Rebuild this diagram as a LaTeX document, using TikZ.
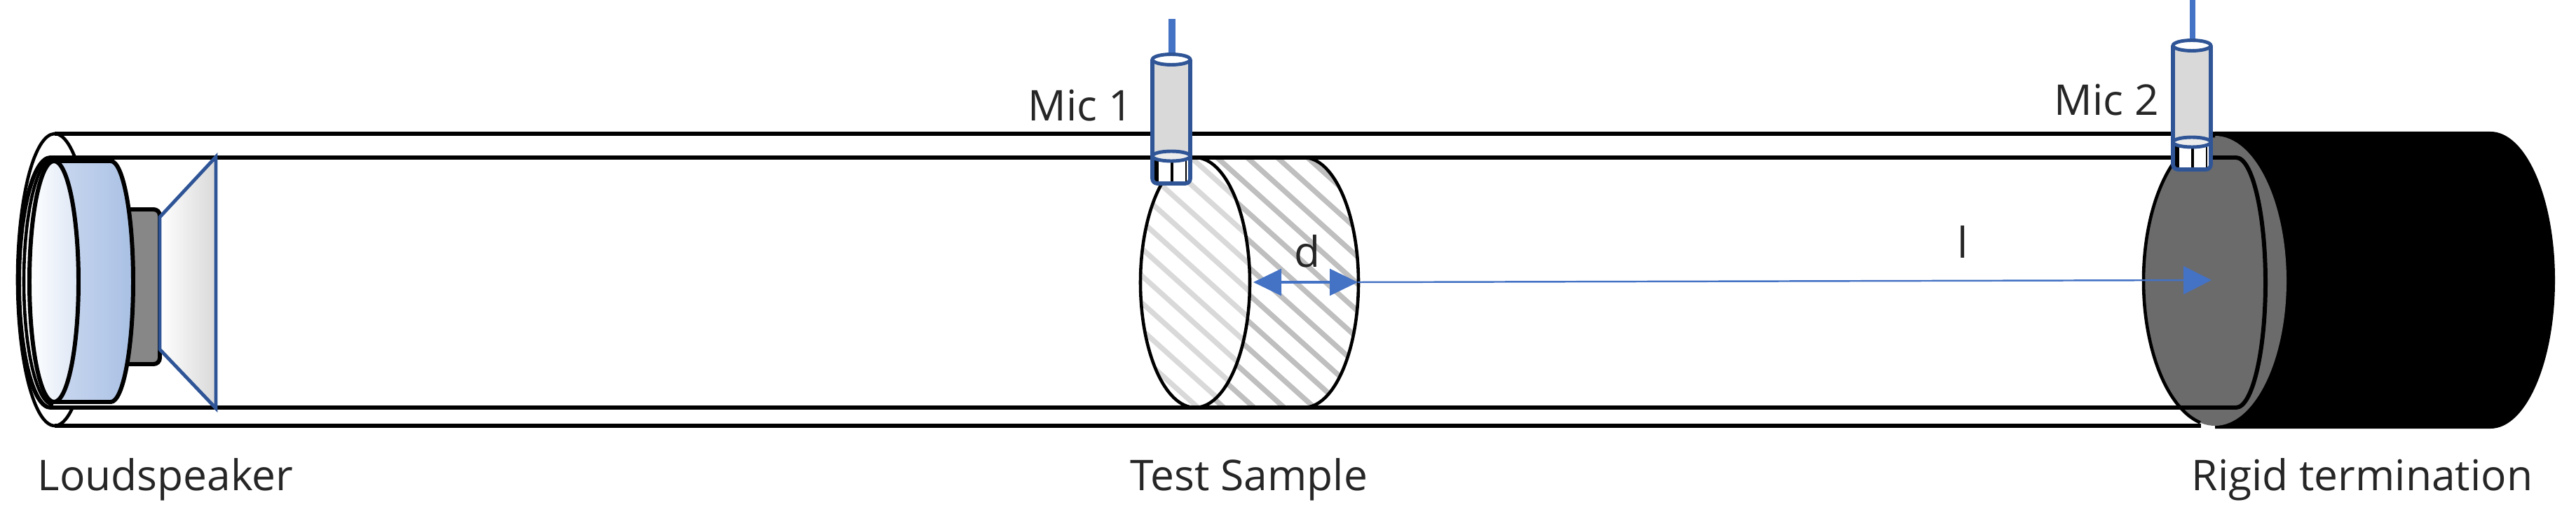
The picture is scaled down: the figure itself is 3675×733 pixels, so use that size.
\documentclass[tikz,border=0pt]{standalone}
\usepackage{fontspec}
\setmainfont{Open Sans}
\usetikzlibrary{arrows.meta}
\definecolor{micblue}{HTML}{2F5597}
\definecolor{linkblue}{HTML}{4472C4}
\definecolor{micgray}{HTML}{D9D9D9}
\definecolor{endgray}{HTML}{6B6B6B}
\definecolor{labelgray}{HTML}{262626}
\definecolor{bodyblue}{HTML}{A9C0E4}
\definecolor{bodylight}{HTML}{CBD9F0}
\definecolor{frontblue}{HTML}{DCE6F5}
\tikzset{
	lbl/.style={font=\fontsize{17.2}{19}\selectfont, text=labelgray, inner sep=0pt, anchor=base west},
	tube/.style={line width=1.7pt},
	rim/.style={line width=1.3pt},
	hatchback/.style={color=black!25, line width=2.1pt},
	hatchfront/.style={color=micgray, line width=2.1pt},
	dimline/.style={color=linkblue, line width=0.9pt},
}
\begin{document}
\begin{tikzpicture}[x=0.01cm, y=0.01cm]
	\useasboundingbox (0,0) rectangle (3675,733);
	% outer tube
	\draw[tube] (3200,542) -- (78,542) (3140,125) -- (78,125);
	\draw[rim] (78,333.5) ++(57:53 and 208.5) arc (57:299:53 and 208.5);
	% rigid termination
	\fill (3160,545) -- (3553,545) arc (90:-90:92 and 212) -- (3160,121) -- cycle;
	\fill[endgray] (3160,332) ellipse (102 and 207);
	\draw[rim] (3160,539) arc (90:258:102 and 207);
	% inner tube
	\draw[tube] (72,151) arc (270:90:45 and 178.5) -- (3190,508) arc (90:-90:42 and 178.5) -- cycle;
	\draw[rim] (76,155) arc (270:90:42 and 176);
	% loudspeaker
	\draw[tube, fill=black!47, rounded corners=2.5pt] (170,434) -- (228,434) -- (228,213) -- (170,213);
	\draw[tube, left color=bodylight, right color=bodyblue] (77,503) -- (158,503) arc (90:-90:32 and 172) -- (77,159) -- cycle;
	\draw[tube, left color=white, right color=frontblue] (77,331) ellipse (35 and 172);
	\draw[micblue, line width=1.4pt, left color=white, right color=micgray] (228,423) -- (308,509) -- (308,150) -- (228,234) -- cycle;
	% test sample
	\begin{scope}
		\clip (1705,508) -- (1860,508) arc (90:-90:78 and 178.5) -- (1705,151) -- cycle;
		\foreach \hatchx in {1207,1250,...,1980}
			\draw[hatchback] (\hatchx,520) -- ++(420,-378);
	\end{scope}
	\fill[white] (1705,329.5) ellipse (78 and 178.5);
	\begin{scope}
		\clip (1705,329.5) ellipse (78 and 178.5);
		\foreach \hatchx in {1213,1256,...,1980}
			\draw[hatchfront] (\hatchx,520) -- ++(420,-378);
	\end{scope}
	\draw[rim] (1705,329.5) ellipse (78 and 178.5);
	\draw[rim] (1860,508) arc (90:-90:78 and 178.5);
	\draw[tube] (1600,508) -- (2000,508) (1600,151) -- (2000,151);
	% microphones
	\foreach \micx/\micy/\wiretop/\wirew in {1671/0/706/2.8pt, 3127/20/733/2.2pt}
	{
		\begin{scope}[shift={(\micx,\micy)}]
			\draw[linkblue, line width=\wirew] (1,648) -- (1,\wiretop-\micy);
			\fill[micgray] (-26,648) rectangle (26,515);
			\fill[white] (-26,515) rectangle (26,474);
			\draw[line width=1.6pt] (-21,505) -- (-21,474);
			\draw[line width=1pt] (1,505) -- (1,474);
			\draw[line width=0.8pt] (21,505) -- (21,474);
			\draw[micblue, line width=1.4pt, fill=micgray!50] (0,510) ellipse (27 and 7);
			\draw[micblue, line width=1.4pt, fill=white] (0,648) ellipse (27 and 7.5);
			\draw[micblue, line width=1.6pt, rounded corners=2pt] (-27,648) -- (-27,471) -- (27,471) -- (27,648);
		\end{scope}
	}
	% arrows
	\coordinate (dleft) at (1788,330);
	\coordinate (dright) at (1937,330);
	\coordinate (lright) at (3155,333);
	\draw[dimline, {Triangle[length=0.4cm, width=0.38cm]}-{Triangle[length=0.4cm, width=0.38cm]}] (dleft) -- (dright);
	\draw[dimline, line width=0.7pt, -{Triangle[length=0.4cm, width=0.4cm]}] (dright) -- (lright);
	% labels
	\node[lbl] (speakerlbl) at (53,33) {Loudspeaker};
	\node[lbl] (samplelbl) at (1612,33) {Test Sample};
	\node[lbl] (endlbl) at (3126,33) {Rigid termination};
	\node[lbl] (micAlbl) at (1466,560) {Mic 1};
	\node[lbl] (micBlbl) at (2930,568) {Mic 2};
	\node[lbl] (dlbl) at (1846,351) {d};
	\node[lbl] (llbl) at (2792,364) {l};
\end{tikzpicture}
\end{document}
